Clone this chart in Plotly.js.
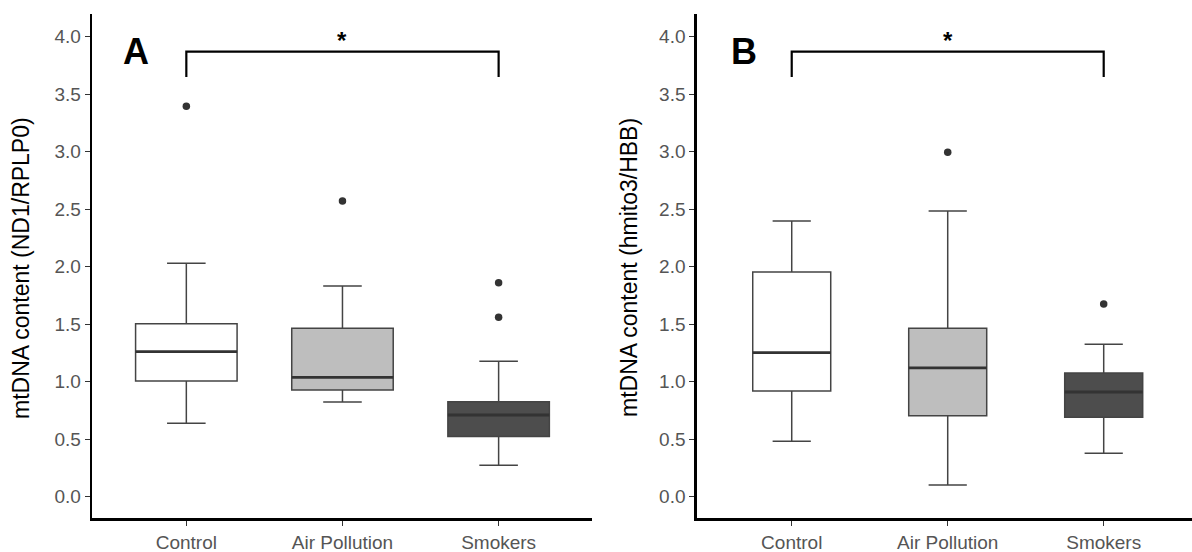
<!DOCTYPE html>
<html>
<head>
<meta charset="utf-8">
<script src="https://cdn.plot.ly/plotly-3.0.1.min.js"></script>
<style>html,body{margin:0;padding:0;background:#fff;}#chart{width:1192px;height:552px;}</style>
</head>
<body>
<div id="chart"></div>
<script>
// ---- data ----
const categories = ['Control', 'Air Pollution', 'Smokers'];
const fillColors = ['#FFFFFF', '#BEBEBE', '#4D4D4D'];

// Panel A: mtDNA content (ND1/RPLP0)
const aQ1 = [1.006, 0.928, 0.522];
const aMedian = [1.261, 1.038, 0.710];
const aQ3 = [1.504, 1.464, 0.826];
const aLower = [0.638, 0.823, 0.273];
const aUpper = [2.030, 1.832, 1.177];
const aOutX = ['Control', 'Air Pollution', 'Smokers', 'Smokers'];
const aOutY = [3.395, 2.571, 1.861, 1.560];

// Panel B: mtDNA content (hmito3/HBB)
const bQ1 = [0.919, 0.704, 0.690];
const bMedian = [1.252, 1.119, 0.910];
const bQ3 = [1.954, 1.464, 1.076];
const bLower = [0.482, 0.102, 0.377];
const bUpper = [2.397, 2.483, 1.325];
const bOutX = ['Air Pollution', 'Smokers'];
const bOutY = [2.996, 1.676];

// significance brackets (Control vs Smokers)
const bracketFrom = 'Control', bracketTo = 'Smokers';
const bracketTop = 3.87, bracketBottom = 3.65;
const sigLabel = '*';

const yTicks = [0, 0.5, 1, 1.5, 2, 2.5, 3, 3.5, 4];

// ---- build ----
const traces = [];
const shapes = [];
function addPanel(q1, med, q3, lo, hi, outX, outY, xa, ya, boxW, whiskW) {
  categories.forEach((c, i) => {
    traces.push({
      type: 'box', x: [c], q1: [q1[i]], median: [med[i]], q3: [q3[i]],
      lowerfence: [lo[i]], upperfence: [hi[i]],
      fillcolor: fillColors[i], line: {color: '#444444', width: 1.5},
      width: boxW, whiskerwidth: whiskW, boxpoints: false,
      xaxis: xa, yaxis: ya, showlegend: false, hoverinfo: 'skip'
    });
    // thicker median line (ggplot fatten)
    shapes.push({type: 'line', xref: xa, yref: ya, x0: i - boxW / 2, x1: i + boxW / 2,
      y0: med[i], y1: med[i], line: {color: '#333333', width: 2.8}});
  });
  traces.push({type: 'scatter', mode: 'markers', x: outX, y: outY, xaxis: xa, yaxis: ya,
    marker: {color: '#333333', size: 7.5}, showlegend: false, hoverinfo: 'skip'});
  const i0 = categories.indexOf(bracketFrom), i1 = categories.indexOf(bracketTo);
  shapes.push({type: 'path', xref: xa, yref: ya,
    path: `M ${i0} ${bracketBottom} L ${i0} ${bracketTop} L ${i1} ${bracketTop} L ${i1} ${bracketBottom}`,
    line: {color: '#000000', width: 2.2}});
}
addPanel(aQ1, aMedian, aQ3, aLower, aUpper, aOutX, aOutY, 'x', 'y', 0.65, 0.38);
addPanel(bQ1, bMedian, bQ3, bLower, bUpper, bOutX, bOutY, 'x2', 'y2', 0.5, 0.49);

const tickFont = {family: 'Liberation Sans, Arial, sans-serif', size: 19, color: '#555555'};
function xAxis(domain, range) {
  return {domain: domain, range: range, type: 'category', categoryarray: categories,
    showline: true, linecolor: '#000', linewidth: 2.4, ticks: 'outside', ticklen: 5,
    tickcolor: '#333', tickwidth: 1.2, tickfont: tickFont, showgrid: false, zeroline: false,
    fixedrange: true};
}
function yAxis(anchor) {
  return {domain: [0.0607, 0.9746], range: [-0.19, 4.197], anchor: anchor,
    tickvals: yTicks, tickformat: '.1f', showline: true, linecolor: '#000', linewidth: 2.4,
    ticks: 'outside', ticklen: 5, tickcolor: '#333', tickwidth: 1.2, tickfont: tickFont,
    showgrid: false, zeroline: false, fixedrange: true};
}
const titleFont = {family: 'Liberation Sans, Arial, sans-serif', size: 23, color: '#000'};
const layout = {
  width: 1192, height: 552, margin: {l: 0, r: 0, t: 0, b: 0},
  paper_bgcolor: '#fff', plot_bgcolor: '#fff', boxmode: 'overlay',
  xaxis: xAxis([0.0772, 0.4969], [-0.604, 2.6]),
  yaxis: yAxis('x'),
  xaxis2: xAxis([0.5845, 1], [-0.609, 2.566]),
  yaxis2: yAxis('x2'),
  shapes: shapes,
  annotations: [
    {text: 'mtDNA content (ND1/RPLP0)', xref: 'paper', yref: 'paper', x: 21 / 1192, y: 1 - 268 / 552,
      textangle: -90, showarrow: false, font: titleFont, xanchor: 'center', yanchor: 'middle'},
    {text: 'mtDNA content (hmito3/HBB)', xref: 'paper', yref: 'paper', x: 629 / 1192, y: 1 - 268 / 552,
      textangle: -90, showarrow: false, font: titleFont, xanchor: 'center', yanchor: 'middle'},
    {text: '<b>A</b>', xref: 'paper', yref: 'paper', x: 135.5 / 1192, y: 1 - 51.5 / 552, showarrow: false,
      font: {family: 'Liberation Sans, Arial, sans-serif', size: 36, color: '#000'}, xanchor: 'center', yanchor: 'middle'},
    {text: '<b>B</b>', xref: 'paper', yref: 'paper', x: 744 / 1192, y: 1 - 51.5 / 552, showarrow: false,
      font: {family: 'Liberation Sans, Arial, sans-serif', size: 36, color: '#000'}, xanchor: 'center', yanchor: 'middle'},
    {text: '<b>' + sigLabel + '</b>', xref: 'x', yref: 'y', x: 1, y: bracketTop, yshift: 11, showarrow: false,
      font: {family: 'Liberation Sans, Arial, sans-serif', size: 24, color: '#000'}, xanchor: 'center', yanchor: 'middle'},
    {text: '<b>' + sigLabel + '</b>', xref: 'x2', yref: 'y2', x: 1, y: bracketTop, yshift: 11, showarrow: false,
      font: {family: 'Liberation Sans, Arial, sans-serif', size: 24, color: '#000'}, xanchor: 'center', yanchor: 'middle'}
  ]
};
Plotly.newPlot('chart', traces, layout, {displayModeBar: false, staticPlot: true});
</script>
</body>
</html>
